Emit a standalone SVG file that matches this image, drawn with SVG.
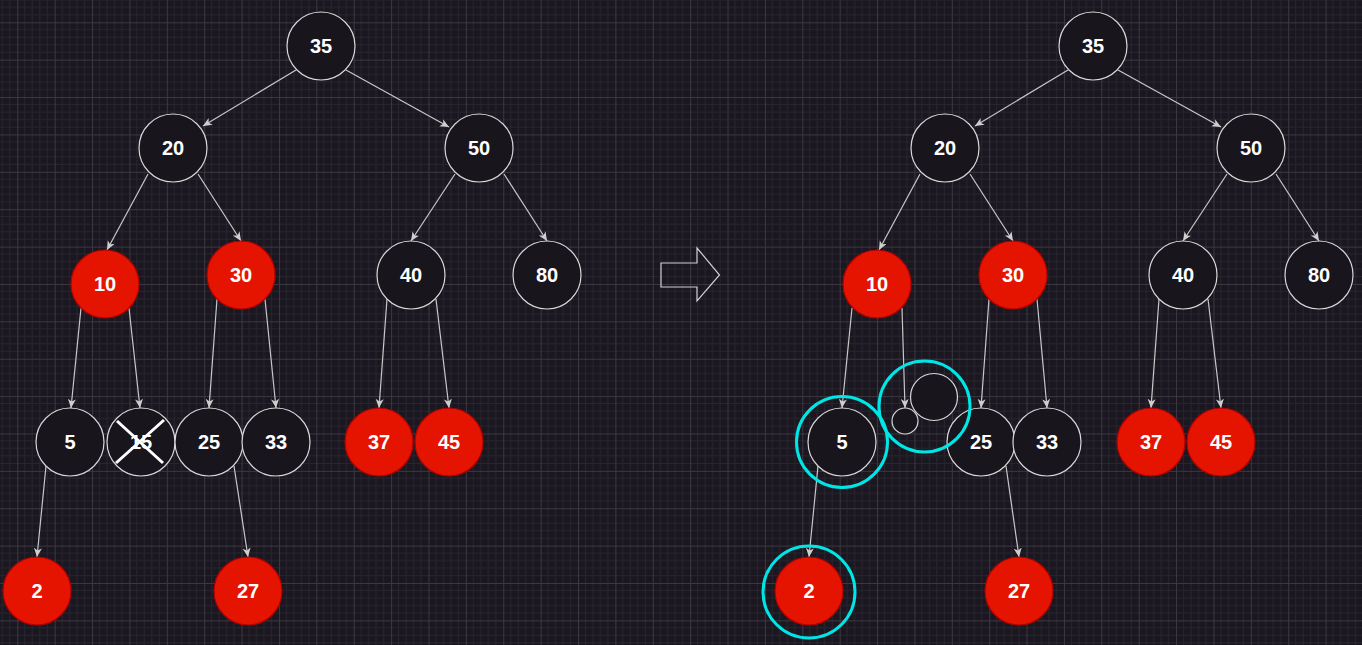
<svg xmlns="http://www.w3.org/2000/svg" width="1362" height="645" viewBox="0 0 1362 645">
<defs>
<pattern id="grid" patternUnits="userSpaceOnUse" x="17.3" y="22.3" width="37.38" height="37.38">
<path d="M7.476 0V37.38M14.952 0V37.38M22.428 0V37.38M29.904 0V37.38M0 7.476H37.38M0 14.952H37.38M0 22.428H37.38M0 29.904H37.38" stroke="#28252e" stroke-width="1" fill="none"/>
<path d="M0.5 0V37.38M0 0.5H37.38" stroke="#3b3842" stroke-width="1" fill="none"/>
</pattern>
<marker id="arr" markerUnits="userSpaceOnUse" markerWidth="10" markerHeight="10" refX="9" refY="4" orient="auto">
<path d="M0,0 L9,4 L0,8 L2.5,4 Z" fill="#cfcfcf"/>
</marker>
<style>
.n circle{fill:#18151d;stroke:#d8d8d8;stroke-width:1.2}
.r circle{fill:#e51400;stroke:#b20000;stroke-width:1.2}
text{font-family:"Liberation Sans",Arial,sans-serif;font-weight:bold;font-size:20px;fill:#ffffff;text-anchor:middle;dominant-baseline:central}
.e line{stroke:#c8c8c8;stroke-width:1.2;marker-end:url(#arr)}
.cy{fill:none;stroke:#00e5e5;stroke-width:3}
</style>
</defs>
<rect width="1362" height="645" fill="#1a1720"/>
<rect width="1362" height="645" fill="url(#grid)"/>

<g id="connectors" class="e">
<line x1="296" y1="70" x2="203" y2="126"/>
<line x1="346" y1="70" x2="449" y2="127"/>
<line x1="148" y1="174" x2="107" y2="250"/>
<line x1="198" y1="174" x2="241" y2="241"/>
<line x1="455" y1="174" x2="411" y2="241"/>
<line x1="504" y1="174" x2="547" y2="241"/>
<line x1="81" y1="308" x2="71" y2="408"/>
<line x1="129" y1="308" x2="140" y2="408"/>
<line x1="217" y1="299" x2="209" y2="408"/>
<line x1="265" y1="299" x2="276" y2="408"/>
<line x1="387" y1="299" x2="379" y2="408"/>
<line x1="436" y1="299" x2="449" y2="408"/>
<line x1="46" y1="466" x2="37" y2="557"/>
<line x1="234" y1="466" x2="248" y2="557"/>

<line x1="1068" y1="70" x2="975" y2="126"/>
<line x1="1118" y1="70" x2="1221" y2="127"/>
<line x1="920" y1="174" x2="879" y2="250"/>
<line x1="970" y1="174" x2="1013" y2="241"/>
<line x1="1227" y1="174" x2="1183" y2="241"/>
<line x1="1276" y1="174" x2="1319" y2="241"/>
<line x1="852" y1="308" x2="842" y2="408"/>
<line x1="902" y1="308" x2="905" y2="408"/>
<line x1="989" y1="299" x2="981" y2="408"/>
<line x1="1037" y1="299" x2="1047" y2="408"/>
<line x1="1159" y1="299" x2="1151" y2="408"/>
<line x1="1208" y1="299" x2="1221" y2="408"/>
<line x1="818" y1="466" x2="809" y2="557"/>
<line x1="1006" y1="466" x2="1019" y2="557"/>
</g>

<g id="L35" class="n"><circle cx="321" cy="46" r="34"/><text x="321" y="46">35</text></g>
<g id="L20" class="n"><circle cx="173" cy="148" r="34"/><text x="173" y="148">20</text></g>
<g id="L50" class="n"><circle cx="479" cy="148" r="34"/><text x="479" y="148">50</text></g>
<g id="L10" class="r"><circle cx="105" cy="284" r="34"/><text x="105" y="284">10</text></g>
<g id="L30" class="r"><circle cx="241" cy="275" r="34"/><text x="241" y="275">30</text></g>
<g id="L40" class="n"><circle cx="411" cy="275" r="34"/><text x="411" y="275">40</text></g>
<g id="L80" class="n"><circle cx="547" cy="275" r="34"/><text x="547" y="275">80</text></g>
<g id="L5" class="n"><circle cx="70" cy="442" r="34"/><text x="70" y="442">5</text></g>
<g id="L15" class="n"><circle cx="141" cy="442" r="34"/><text x="141" y="442">15</text>
<path d="M117 421L163 463M164 420L116 463" stroke="#ffffff" stroke-width="3" fill="none"/></g>
<g id="L25" class="n"><circle cx="209" cy="442" r="34"/><text x="209" y="442">25</text></g>
<g id="L33" class="n"><circle cx="276" cy="442" r="34"/><text x="276" y="442">33</text></g>
<g id="L37" class="r"><circle cx="379" cy="442" r="34"/><text x="379" y="442">37</text></g>
<g id="L45" class="r"><circle cx="449" cy="442" r="34"/><text x="449" y="442">45</text></g>
<g id="L2" class="r"><circle cx="37" cy="591" r="34"/><text x="37" y="591">2</text></g>
<g id="L27" class="r"><circle cx="248" cy="591" r="34"/><text x="248" y="591">27</text></g>

<g id="arrow"><path d="M661 263H697V248L719.5 275L697 301V287H661Z" fill="none" stroke="#d0d0d0" stroke-width="1.2"/></g>

<g id="R35" class="n"><circle cx="1093" cy="46" r="34"/><text x="1093" y="46">35</text></g>
<g id="R20" class="n"><circle cx="945" cy="148" r="34"/><text x="945" y="148">20</text></g>
<g id="R50" class="n"><circle cx="1251" cy="148" r="34"/><text x="1251" y="148">50</text></g>
<g id="R10" class="r"><circle cx="877" cy="284" r="34"/><text x="877" y="284">10</text></g>
<g id="R30" class="r"><circle cx="1013" cy="275" r="34"/><text x="1013" y="275">30</text></g>
<g id="R40" class="n"><circle cx="1183" cy="275" r="34"/><text x="1183" y="275">40</text></g>
<g id="R80" class="n"><circle cx="1319" cy="275" r="34"/><text x="1319" y="275">80</text></g>
<g id="R5" class="n"><circle cx="842" cy="442" r="34"/><text x="842" y="442">5</text></g>
<g id="Rnil" class="n"><circle cx="905" cy="421" r="13"/></g>
<g id="Rblob" class="n"><circle cx="934" cy="397" r="23.5"/></g>
<g id="R25" class="n"><circle cx="981" cy="442" r="34"/><text x="981" y="442">25</text></g>
<g id="R33" class="n"><circle cx="1047" cy="442" r="34"/><text x="1047" y="442">33</text></g>
<g id="R37" class="r"><circle cx="1151" cy="442" r="34"/><text x="1151" y="442">37</text></g>
<g id="R45" class="r"><circle cx="1221" cy="442" r="34"/><text x="1221" y="442">45</text></g>
<g id="R2" class="r"><circle cx="809" cy="591" r="34"/><text x="809" y="591">2</text></g>
<g id="R27" class="r"><circle cx="1019" cy="591" r="34"/><text x="1019" y="591">27</text></g>

<g id="highlights">
<circle class="cy" cx="842" cy="442" r="45.5"/>
<circle class="cy" cx="924.5" cy="406.5" r="45.5"/>
<circle class="cy" cx="809" cy="592" r="46"/>
</g>
</svg>
